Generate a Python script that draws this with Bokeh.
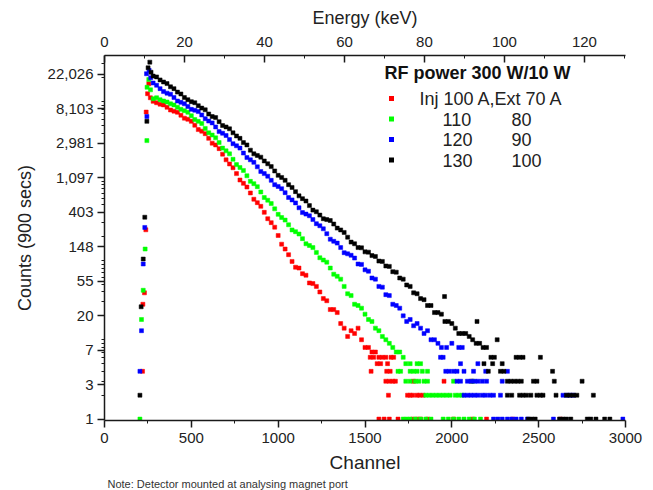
import math
from bokeh.plotting import figure
from bokeh.models import (Range1d, LinearAxis, FixedTicker, CustomJSTickFormatter,
                          Label, BoxAnnotation, Title)
from bokeh.embed import file_html
from bokeh.resources import INLINE

# ---------------- data ----------------
series_names = ["Inj 100 A,Ext 70 A", "110", "120", "130"]
inj_current = [100, 110, 120, 130]
ext_current = [70, 80, 90, 100]
series_colors = ["#ff0000", "#00ff00", "#0000ff", "#000000"]

grid_start = 280   # channel of the first point of each main curve
grid_step = 20     # channel spacing of the main curve points

red_main = [10100, 9700, 9300, 9100, 8500, 7850, 7600, 7350, 6750, 6200, 6000, 5650, 5050,
            4450, 4250, 3950, 3450, 3000, 2850, 2560, 2180, 1850, 1640, 1470, 1240, 1030,
            935, 840, 707, 590, 534, 480, 403, 335, 299, 262, 206, 160, 139, 118, 97, 82,
            80, 68, 65, 52, 51, 47, 40, 33, 31, 24, 24, 22, 16, 14, 11, 13, 12, 14, 10, 8, 8]
green_main = [10900, 11200, 10600, 10200, 9900, 9400, 9100, 8500, 8000, 7700, 7350, 6650,
              5950, 5650, 5300, 4600, 4050, 3800, 3500, 3050, 2600, 2400, 2200, 1880, 1610,
              1480, 1360, 1165, 990, 926, 850, 728, 620, 573, 520, 446, 380, 347, 322, 281,
              242, 230, 215, 188, 162, 154, 145, 126, 108, 101, 95, 80, 67, 63, 58, 47, 38,
              36, 28, 27, 25, 21, 18, 17, 14, 13, 11, 10, 9, 8]
blue_main = [17200, 16100, 14600, 13400, 12800, 12400, 11300, 10200, 9800, 9400, 8700, 8000,
             7800, 7500, 6800, 6100, 5700, 5400, 4800, 4200, 4000, 3750, 3330, 2950, 2780,
             2600, 2250, 1980, 1850, 1720, 1510, 1320, 1240, 1150, 1020, 900, 855, 800, 714,
             620, 578, 530, 460, 400, 383, 365, 327, 290, 273, 250, 217, 185, 174, 165, 145,
             125, 121, 116, 107, 90, 89, 76, 73, 60, 58, 47, 46, 37, 36, 28, 27, 25, 20, 17,
             18, 15, 16, 14, 12, 13, 10, 10, 9]
black_main = [21000, 20500, 18800, 17700, 16900, 15400, 14600, 13200, 12500, 11300, 10600,
              10000, 9700, 8900, 8300, 7900, 7000, 6500, 6300, 5600, 5000, 4800, 4550, 4050,
              3700, 3450, 3050, 2850, 2450, 2200, 2100, 2000, 1790, 1650, 1520, 1340, 1180,
              1110, 1020, 900, 830, 735, 650, 600, 560, 490, 430, 410, 372, 335, 327, 318, 287,
              255, 242, 225, 196, 170, 162, 145, 144, 128, 127, 115, 112, 98, 97, 85, 84, 72,
              71, 60, 58, 49, 47, 39, 38, 33, 32, 27, 27, 22, 22, 21, 17, 17, 16, 14, 12, 12,
              12, 11, 10, 9, 9, 8, 8]

# rising edge / peak points
red_peak_ch = [219, 221, 230, 238, 240, 248, 255, 264]
red_peak_counts = [4, 28, 39, 243, 7400, 12600, 16800, 11200]
green_peak_ch = [204, 213, 223, 234, 244, 245, 255, 265]
green_peak_counts = [1, 18, 42, 139, 3230, 15200, 19000, 14100]
blue_peak_ch = [204, 213, 223, 232, 244, 242, 257, 266]
blue_peak_counts = [4, 13, 90, 260, 6500, 22500, 24800, 20000]
black_peak_ch = [204, 211, 223, 232, 244, 251, 261, 268]
black_peak_counts = [2, 26, 104, 350, 5650, 26700, 31500, 23500]

# low-count tails (integer counts)
red_tail_ch = [1540, 1560, 1530, 1550, 1580, 1600, 1620, 1650, 1665, 1570, 1590, 1630,
               1535, 1625, 1645, 1620, 1640, 1660, 1675, 1780, 1955, 2115,
               1635, 1745, 1760, 1775, 1800, 1815, 1835,
               1580, 1610, 1640, 1690, 1775, 1800, 1820, 1860, 2010, 2120, 2200, 2350, 2625]
red_tail_counts = [7, 7, 6, 6, 6, 6, 6, 6, 6, 5, 5, 5,
                   4, 4, 4, 3, 3, 3, 3, 3, 3, 3,
                   2, 2, 2, 2, 2, 2, 2,
                   1, 1, 1, 1, 1, 1, 1, 1, 1, 1, 1, 1, 1]
green_tail_ch = [1680, 1700, 1720, 1735, 1760, 1800, 1820,
                 1690, 1705, 1760, 1780, 1800, 1830, 1860,
                 1735, 1760, 1790, 1810, 1840, 1860, 2010, 2120,
                 1850, 1870, 1890, 1910, 1930, 1950, 1970, 1990, 2020, 2040, 2060,
                 1720, 1740, 1760, 1790, 1820, 1850, 1880, 1950, 1980, 2010, 2040, 2070,
                 2100, 2130, 2165]
green_tail_counts = [7, 7, 6, 5, 5, 5, 5,
                     4, 4, 4, 4, 4, 4, 4,
                     3, 3, 3, 3, 3, 3, 3, 3,
                     2, 2, 2, 2, 2, 2, 2, 2, 2, 2, 2,
                     1, 1, 1, 1, 1, 1, 1, 1, 1, 1, 1, 1,
                     1, 1, 1]
blue_tail_ch = [1940, 1970, 2000, 2040, 2060, 1935, 1950, 2050, 2150,
                1965, 1985, 2010, 2030, 2070, 2125, 2195, 2320,
                2030, 2050, 2090, 2110, 2130, 2150, 2175, 2200, 2290,
                2070, 2090, 2110, 2130, 2150, 2175, 2195, 2220, 2240, 2280, 2640, 2660, 2680, 2700,
                2240, 2265, 2290, 2320, 2345, 2370, 2400, 2435, 2585, 2985]
blue_tail_counts = [8, 8, 9, 8, 8, 6, 6, 5, 5,
                    4, 4, 4, 4, 4, 4, 4, 4,
                    3, 3, 3, 3, 3, 3, 3, 3, 3,
                    2, 2, 2, 2, 2, 2, 2, 2, 2, 2, 2, 2, 2, 2,
                    1, 1, 1, 1, 1, 1, 1, 1, 1, 1]
black_tail_ch = [1958, 2145, 2261, 2225, 2245, 2370, 2390, 2410, 2510, 2185, 2235, 2290,
                 2210, 2280, 2300, 2580,
                 2320, 2340, 2360, 2380, 2400, 2470, 2490, 2590, 2750,
                 2320, 2345, 2390, 2410, 2430, 2455, 2490, 2510, 2525, 2600, 2660, 2680, 2700,
                 2720, 2815,
                 2440, 2460, 2480, 2620, 2640, 2660, 2685, 2780, 2800, 2830, 2880, 2910]
black_tail_counts = [35, 17, 10, 6, 6, 6, 6, 6, 6, 5, 5, 5,
                     4, 4, 4, 4,
                     3, 3, 3, 3, 3, 3, 3, 3, 3,
                     2, 2, 2, 2, 2, 2, 2, 2, 2, 2, 2, 2, 2,
                     2, 2,
                     1, 1, 1, 1, 1, 1, 1, 1, 1, 1, 1, 1]

# axis ticks
channel_ticks = [0, 500, 1000, 1500, 2000, 2500, 3000]
channel_minor = [250, 750, 1250, 1750, 2250, 2750]
energy_ticks = [0, 20, 40, 60, 80, 100, 120]
energy_minor = [10, 30, 50, 70, 90, 110, 130]
y_tick_labels = ["1", "3", "7", "20", "55", "148", "403", "1,097", "2,981", "8,103", "22,026"]
channels_per_kev = 23.03
note_text = "Note: Detector mounted at analysing magnet port"

mains = [red_main, green_main, blue_main, black_main]
peaks = [(red_peak_ch, red_peak_counts), (green_peak_ch, green_peak_counts),
         (blue_peak_ch, blue_peak_counts), (black_peak_ch, black_peak_counts)]
tails = [(red_tail_ch, red_tail_counts), (green_tail_ch, green_tail_counts),
         (blue_tail_ch, blue_tail_counts), (black_tail_ch, black_tail_counts)]

# ---------------- figure ----------------
FONT = "Liberation Sans"
p = figure(width=645, height=490, y_axis_type="log",
           x_range=Range1d(0, 3000), y_range=Range1d(0.96, math.exp(10.55)),
           output_backend="svg", toolbar_location=None,
           min_border_left=104, min_border_right=20, min_border_top=55, min_border_bottom=70)
p.grid.visible = False
p.outline_line_color = None
p.background_fill_color = "white"
p.border_fill_color = "white"

for main, (pk_ch, pk_c), (tl_ch, tl_c), col in zip(mains, peaks, tails, series_colors):
    xs = [grid_start + grid_step * i for i in range(len(main))] + pk_ch + tl_ch
    ys = list(main) + pk_c + tl_c
    p.scatter(xs, ys, marker="square", size=4, fill_color=col, line_color=col, line_width=0.5)

# bottom axis
xa = p.xaxis[0]
xa.ticker = FixedTicker(ticks=channel_ticks, minor_ticks=channel_minor)
xa.axis_label = "Channel"

# left axis
ya = p.yaxis[0]
y_major = [math.exp(k) for k in range(len(y_tick_labels))]
y_minor = [m * 10 ** d for d in range(0, 5) for m in range(2, 10)] + [10, 100, 1000, 10000]
ya.ticker = FixedTicker(ticks=y_major, minor_ticks=y_minor)
ya.formatter = CustomJSTickFormatter(args=dict(labels=y_tick_labels),
                                     code="return labels[Math.round(Math.log(tick))];")
ya.axis_label = "Counts (900 secs)"

# top axis (energy)
p.extra_x_ranges = {"energy": Range1d(0, 3000 / channels_per_kev)}
ta = LinearAxis(x_range_name="energy", axis_label="Energy (keV)",
                ticker=FixedTicker(ticks=energy_ticks, minor_ticks=energy_minor))
p.add_layout(ta, "above")

for ax in (xa, ya, ta):
    ax.axis_line_color = "#1a1a1a"
    ax.axis_line_width = 1.5
    ax.major_tick_line_color = "#1a1a1a"
    ax.major_tick_line_width = 1.5
    ax.minor_tick_line_color = "#1a1a1a"
    ax.minor_tick_line_width = 1
    ax.major_label_text_font = FONT
    ax.major_label_text_font_size = "15px"
    ax.major_label_text_color = "#222222"
    ax.axis_label_text_font = FONT
    ax.axis_label_text_font_style = "normal"
    ax.axis_label_text_color = "#222222"

xa.major_tick_out, xa.major_tick_in = 7, 0
xa.minor_tick_out, xa.minor_tick_in = 3, 0
xa.major_label_standoff = 5
xa.axis_label_standoff = 6
xa.axis_label_text_font_size = "19px"

ya.major_tick_out, ya.major_tick_in = 7, 0
ya.minor_tick_out, ya.minor_tick_in = 3, 0
ya.major_label_standoff = 4
ya.axis_label_standoff = 10
ya.axis_label_text_font_size = "18px"

ta.major_tick_out, ta.major_tick_in = 0, 7
ta.minor_tick_out, ta.minor_tick_in = 0, 3
ta.major_label_standoff = 9
ta.axis_label_standoff = 6
ta.axis_label_text_font_size = "18px"

# note under the x axis
p.add_layout(Title(text=note_text, align="left", offset=3, standoff=0,
                   text_font=FONT, text_font_size="11px", text_font_style="normal",
                   text_color="#333333"), "below")

# ---------------- legend (manual, screen units relative to frame) ----------------
p.add_layout(Label(x=373, y=348, x_units="screen", y_units="screen",
                   text="RF power 300 W/10 W", text_font=FONT, text_font_size="18px",
                   text_font_style="bold", text_align="center", text_baseline="middle",
                   text_color="#111111"))
row_y = [322, 301.5, 281, 260.5]
for i, (yy, col) in enumerate(zip(row_y, series_colors)):
    p.add_layout(BoxAnnotation(left=284.5, right=289.5, bottom=yy - 2.5, top=yy + 2.5,
                               left_units="screen", right_units="screen",
                               bottom_units="screen", top_units="screen",
                               fill_color=col, fill_alpha=1, line_color=None))
    if i == 0:
        p.add_layout(Label(x=315, y=yy, x_units="screen", y_units="screen",
                           text=series_names[0], text_font=FONT, text_font_size="18px",
                           text_baseline="middle", text_color="#222222"))
    else:
        p.add_layout(Label(x=338, y=yy, x_units="screen", y_units="screen",
                           text=str(inj_current[i]), text_font=FONT, text_font_size="18px",
                           text_baseline="middle", text_color="#222222"))
        p.add_layout(Label(x=407, y=yy, x_units="screen", y_units="screen",
                           text=str(ext_current[i]), text_font=FONT, text_font_size="18px",
                           text_baseline="middle", text_color="#222222"))

open("out.html", "w").write(file_html(p, INLINE))
